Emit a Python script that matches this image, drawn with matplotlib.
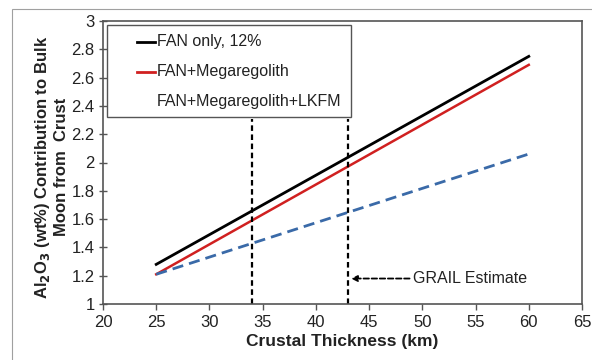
import matplotlib
matplotlib.use("Agg")
import matplotlib.pyplot as plt
from matplotlib.patches import Rectangle

plt.rcParams['font.family'] = ['Liberation Sans', 'DejaVu Sans']

x_vals = [25, 60]
fan_only = [1.28, 2.75]
fan_mega = [1.21, 2.69]
fan_mega_lkfm = [1.21, 2.06]
grail_bounds = [34, 43]
xticks = [20, 25, 30, 35, 40, 45, 50, 55, 60, 65]
yticks = [1, 1.2, 1.4, 1.6, 1.8, 2, 2.2, 2.4, 2.6, 2.8, 3]
labels = ["FAN only, 12%", "FAN+Megaregolith", "FAN+Megaregolith+LKFM"]
label_colors = ['black', '#d02020', None]

fig = plt.figure(figsize=(5.92, 3.6), dpi=100)
ax = fig.add_axes([103/592, 1-304/360, (582-103)/592, (304-21)/360])

# outer frame of the figure panel
fig.patches.append(Rectangle((12/592, -0.1), 1.0, 1 - 9/360 + 0.1, transform=fig.transFigure,
                             fill=False, edgecolor='#a0a0a0', linewidth=0.8))

ax.plot(x_vals, fan_only, color='black', lw=2.0)
ax.plot(x_vals, fan_mega, color='#d02020', lw=1.8)
ax.plot(x_vals, fan_mega_lkfm, color='#3a6aa8', lw=2.0, dashes=(4, 2.2))

for g in grail_bounds:
    ax.plot([g, g], [1, 2.31], color='black', lw=1.6, dashes=(2.5, 1.6))

ax.annotate("", xy=(43.3, 1.18), xytext=(48.8, 1.18),
            arrowprops=dict(arrowstyle='-|>', color='black', lw=1.3, linestyle=(0, (3, 1.5)),
                            mutation_scale=9, shrinkA=0, shrinkB=0))
ax.text(49.1, 1.18, "GRAIL Estimate", fontsize=11.5, va='center', ha='left', color='#222222')

ax.set_xlim(20, 65)
ax.set_ylim(1, 3)
ax.set_xticks(xticks)
ax.set_yticks(yticks)
ax.set_xticklabels([str(t) for t in xticks])
ax.set_yticklabels([("%g" % t) for t in yticks])
ax.tick_params(axis='both', labelsize=12, color='#555555', labelcolor='#222222', length=4, width=1)
ax.tick_params(axis='y', direction='inout', length=6, pad=3)
ax.tick_params(axis='x', direction='out', pad=4)
for s in ax.spines.values():
    s.set_color('#555555')
    s.set_linewidth(1.2)

ax.set_xlabel("Crustal Thickness (km)", fontsize=12.5, fontweight='bold', color='#222222', labelpad=3)
ax.set_ylabel("Al$_\\mathbf{2}$O$_\\mathbf{3}$ (wt%) Contribution to Bulk\nMoon from  Crust",
              fontsize=12, fontweight='bold', color='#222222', linespacing=1.1)
ax.yaxis.set_label_coords(-0.072, 0.484)

# legend box drawn in axes coordinates
ax.add_patch(Rectangle((0.0084, 0.6608), 0.5093, 0.3251, transform=ax.transAxes,
                       facecolor='white', edgecolor='#555555', linewidth=1.0, zorder=5))
rows_y = [0.9258, 0.8198, 0.7173]
for lab, col, yy in zip(labels, label_colors, rows_y):
    if col is not None:
        ax.plot([0.071, 0.1086], [yy, yy], transform=ax.transAxes, color=col, lw=2.0, zorder=6)
    ax.text(0.1127, yy, lab, transform=ax.transAxes, fontsize=11.5, va='center', ha='left',
            color='#222222', zorder=6)

fig.savefig("out.png", dpi=100)
